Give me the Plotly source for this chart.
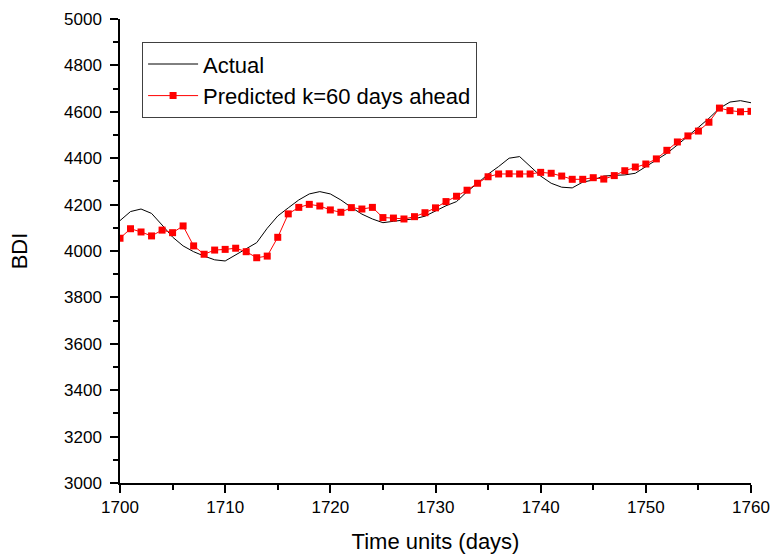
import plotly.graph_objects as go

days = list(range(1700, 1761))

actual = [4131, 4170, 4181, 4162, 4112, 4060, 4022, 3997, 3978, 3962,
          3957, 3983, 4007, 4036, 4098, 4151, 4186, 4220, 4246, 4256,
          4246, 4220, 4188, 4159, 4138, 4122, 4128, 4134, 4139, 4150,
          4172, 4195, 4213, 4256, 4292, 4331, 4364, 4400, 4407, 4364,
          4323, 4292, 4275, 4272, 4297, 4306, 4323, 4326, 4328, 4335,
          4364, 4392, 4421, 4457, 4493, 4533, 4572, 4615, 4642, 4648,
          4639]

predicted = [4055, 4096, 4082, 4065, 4090, 4079, 4108, 4022, 3986, 4004,
             4007, 4012, 3997, 3971, 3978, 4059, 4160, 4188, 4201, 4194,
             4177, 4167, 4187, 4181, 4188, 4144, 4142, 4138, 4148, 4165,
             4186, 4213, 4236, 4262, 4292, 4320, 4332, 4333, 4332, 4332,
             4339, 4335, 4323, 4309, 4309, 4316, 4310, 4325, 4346, 4362,
             4375, 4397, 4434, 4470, 4496, 4517, 4555, 4616, 4605, 4600,
             4602]

x_ticks = [1700, 1710, 1720, 1730, 1740, 1750, 1760]
y_ticks = [3000, 3200, 3400, 3600, 3800, 4000, 4200, 4400, 4600, 4800, 5000]

FONT = "Liberation Sans, Arial, sans-serif"

fig = go.Figure()
fig.add_trace(go.Scatter(
    x=days, y=actual, mode="lines", name="Actual",
    line=dict(color="black", width=1),
))
fig.add_trace(go.Scatter(
    x=days, y=predicted, mode="lines+markers", name="Predicted k=60 days ahead",
    line=dict(color="#ff0000", width=1),
    marker=dict(symbol="square", size=7, color="#ff0000"),
))

axis_common = dict(
    showline=True, linecolor="black", linewidth=1.5,
    ticks="outside", ticklen=8, tickwidth=1.5, tickcolor="black",
    showgrid=False, zeroline=False, mirror=False, automargin=False,
    tickfont=dict(family=FONT, size=17, color="black"),
)

fig.update_layout(
    width=775, height=555,
    margin=dict(l=120, r=24, t=19, b=72),
    paper_bgcolor="white", plot_bgcolor="white",
    font=dict(family=FONT, color="black"),
    xaxis=dict(
        range=[1700, 1760], tickvals=x_ticks,
        minor=dict(dtick=5, ticks="outside", ticklen=5, tickwidth=1.5, tickcolor="black"),
        title=dict(text="Time units (days)", font=dict(family=FONT, size=22), standoff=17),
        ticklabelstandoff=0,
        **axis_common,
    ),
    yaxis=dict(
        range=[3000, 5000], tickvals=y_ticks,
        minor=dict(dtick=100, ticks="outside", ticklen=5, tickwidth=1.5, tickcolor="black"),
        title=dict(text="BDI", font=dict(family=FONT, size=22), standoff=30),
        ticklabelstandoff=5,
        **axis_common,
    ),
    legend=dict(
        x=0.035, y=0.95, xanchor="left", yanchor="top",
        bordercolor="#404040", borderwidth=1, bgcolor="white",
        font=dict(family=FONT, size=22, color="black"),
        itemwidth=50, tracegroupgap=0,
    ),
)

fig.write_html("out.html")
